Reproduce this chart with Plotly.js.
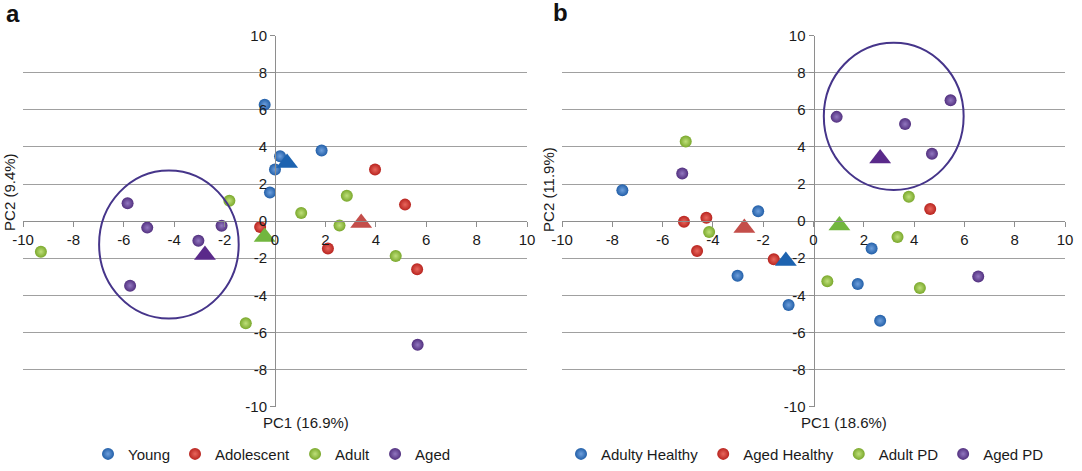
<!DOCTYPE html>
<html>
<head>
<meta charset="utf-8">
<script src="https://cdn.plot.ly/plotly-3.0.1.min.js"></script>
<style>html,body{margin:0;padding:0;background:#fff;}#chart{width:1082px;height:471px;}</style>
</head>
<body>
<div id="chart"></div>
<script>
// ---------- Panel a data ----------
const seriesA = ["Young", "Adolescent", "Adult", "Aged"];
const youngX = [-0.41, 0.2, 0.0, 1.85, -0.2];
const youngY = [6.28, 3.5, 2.78, 3.81, 1.54];
const adolescentX = [3.97, 5.16, -0.59, 2.1, 5.64];
const adolescentY = [2.78, 0.89, -0.32, -1.47, -2.59];
const adultX = [-1.81, 2.85, 1.04, 2.56, -9.29, 4.79, -1.16];
const adultY = [1.1, 1.37, 0.44, -0.23, -1.65, -1.88, -5.51];
const agedX = [-5.85, -5.07, -2.12, -3.04, -5.75, 5.66];
const agedY = [0.96, -0.35, -0.25, -1.06, -3.48, -6.67];
const centroidA_X = [0.48, 3.42, -0.41, -2.78];
const centroidA_Y = [3.14, -0.1, -0.85, -1.83];
const ellipseA = {cx: -4.21, cy: -1.26, rx: 2.77, ry: 3.99};

// ---------- Panel b data ----------
const seriesB = ["Adulty Healthy", "Aged Healthy", "Adult PD", "Aged PD"];
const adultHealthyX = [-7.6, -2.2, -3.02, 2.31, 1.76, -0.99, 2.65];
const adultHealthyY = [1.67, 0.53, -2.94, -1.47, -3.39, -4.52, -5.37];
const agedHealthyX = [-5.15, -4.26, -4.63, -1.58, 4.64];
const agedHealthyY = [-0.03, 0.18, -1.61, -2.06, 0.66];
const adultPDX = [-5.08, -4.15, 3.79, 3.34, 0.55, 4.23];
const adultPDY = [4.29, -0.59, 1.31, -0.85, -3.24, -3.6];
const agedPDX = [-5.22, 0.92, 3.64, 5.45, 4.71, 6.55];
const agedPDY = [2.57, 5.62, 5.23, 6.51, 3.63, -2.98];
const centroidB_X = [-1.1, -2.75, 1.03, 2.65];
const centroidB_Y = [-2.15, -0.37, -0.23, 3.37];
const ellipseB = {cx: 3.19, cy: 5.65, rx: 2.78, ry: 3.97};

const axisLabelsA = {x: "PC1 (16.9%)", y: "PC2 (9.4%)"};
const axisLabelsB = {x: "PC1 (18.6%)", y: "PC2 (11.9%)"};
const axisRange = [-10, 10];
const tickValues = [-10, -8, -6, -4, -2, 0, 2, 4, 6, 8, 10];
const tickLabels = ["-10", "-8", "-6", "-4", "-2", "0", "2", "4", "6", "8", "10"];

// ---------- styles ----------
const sphereColors = ["#225fa8", "#b8241f", "#7aa82c", "#52307f"];
const sphereHighlights = ["#6e9fdc", "#e8675d", "#bfe07a", "#9277c0"];
const triColors = ["#1d63b0", "#c44e4a", "#72b63f", "#5a2a8a"];
const FONT = "Liberation Sans, Arial, sans-serif";

function sphereTrace(name, xs, ys, i, xa, ya, legend) {
  return {
    type: "scatter", mode: "markers", name: name, x: xs, y: ys,
    xaxis: xa, yaxis: ya, legend: legend,
    marker: {size: 12, color: sphereColors[i], symbol: "circle",
             gradient: {type: "radial", color: sphereHighlights[i]},
             line: {width: 0}},
    hoverinfo: "x+y+name"
  };
}
function centroidTraces(cx, cy, xa, ya) {
  return cx.map((v, i) => ({
    type: "scatter", mode: "markers", x: [v], y: [cy[i]], xaxis: xa, yaxis: ya,
    showlegend: false,
    marker: {size: 19, symbol: "triangle-up", color: triColors[i], line: {width: 0}},
    hoverinfo: "x+y"
  }));
}

const data = [
  sphereTrace(seriesA[0], youngX, youngY, 0, "x", "y", "legend"),
  sphereTrace(seriesA[1], adolescentX, adolescentY, 1, "x", "y", "legend"),
  sphereTrace(seriesA[2], adultX, adultY, 2, "x", "y", "legend"),
  sphereTrace(seriesA[3], agedX, agedY, 3, "x", "y", "legend"),
  ...centroidTraces(centroidA_X, centroidA_Y, "x", "y"),
  sphereTrace(seriesB[0], adultHealthyX, adultHealthyY, 0, "x2", "y2", "legend2"),
  sphereTrace(seriesB[1], agedHealthyX, agedHealthyY, 1, "x2", "y2", "legend2"),
  sphereTrace(seriesB[2], adultPDX, adultPDY, 2, "x2", "y2", "legend2"),
  sphereTrace(seriesB[3], agedPDX, agedPDY, 3, "x2", "y2", "legend2"),
  ...centroidTraces(centroidB_X, centroidB_Y, "x2", "y2")
];

// layout geometry (paper fractions)
const domA = [23 / 1082, 527 / 1082];
const domB = [562 / 1082, 1065 / 1082];
const domY = [1 - 411 / 471, 1 - 36 / 471];
const midY = (domY[0] + domY[1]) / 2;
const midA = (domA[0] + domA[1]) / 2;
const midB = (domB[0] + domB[1]) / 2;

const tickFont = {family: FONT, size: 15, color: "#1a1a1a"};
function xAxis(dom) {
  return {domain: dom, range: axisRange, anchor: "free", position: midY,
    showgrid: false, zeroline: false, showline: true, linecolor: "#8e8e8e", linewidth: 1,
    ticks: "outside", ticklen: 5, tickcolor: "#8e8e8e",
    tickmode: "array", tickvals: tickValues, ticktext: tickLabels,
    tickfont: tickFont, fixedrange: true};
}
function yAxis(pos) {
  return {domain: domY, range: axisRange, anchor: "free", position: pos,
    showgrid: true, gridcolor: "#a0a0a0", gridwidth: 1, zeroline: false,
    showline: true, linecolor: "#8e8e8e", linewidth: 1,
    ticks: "outside", ticklen: 5, tickcolor: "#8e8e8e",
    tickmode: "array", tickvals: tickValues, ticktext: tickLabels,
    tickfont: tickFont, fixedrange: true};
}
function ellipseShape(e, xr, yr) {
  return {type: "circle", xref: xr, yref: yr,
    x0: e.cx - e.rx, x1: e.cx + e.rx, y0: e.cy - e.ry, y1: e.cy + e.ry,
    line: {color: "#46358a", width: 2}, fillcolor: "rgba(0,0,0,0)"};
}
const titleFont = {family: FONT, size: 15, color: "#1a1a1a"};
const legendCommon = {orientation: "h", xanchor: "center", yanchor: "middle",
  y: 1 - 459 / 471, font: {family: FONT, size: 15, color: "#1a1a1a"},
  itemsizing: "constant", itemwidth: 30, bgcolor: "rgba(0,0,0,0)", tracegroupgap: 0};

const layout = {
  width: 1082, height: 471,
  margin: {l: 0, r: 0, t: 0, b: 0},
  paper_bgcolor: "#fff", plot_bgcolor: "#fff",
  xaxis: xAxis(domA), yaxis: yAxis(midA),
  xaxis2: xAxis(domB), yaxis2: yAxis(midB),
  shapes: [ellipseShape(ellipseA, "x", "y"), ellipseShape(ellipseB, "x2", "y2")],
  legend: Object.assign({x: 272 / 1082}, legendCommon),
  legend2: Object.assign({x: 805 / 1082}, legendCommon),
  annotations: [
    {text: axisLabelsA.x, xref: "paper", yref: "paper", x: 306 / 1082, y: 1 - 427 / 471,
     xanchor: "center", yanchor: "middle", showarrow: false, font: titleFont},
    {text: axisLabelsA.y, xref: "paper", yref: "paper", x: 10 / 1082, y: 1 - 194 / 471,
     xanchor: "center", yanchor: "middle", textangle: -90, showarrow: false, font: titleFont},
    {text: axisLabelsB.x, xref: "paper", yref: "paper", x: 844 / 1082, y: 1 - 427 / 471,
     xanchor: "center", yanchor: "middle", showarrow: false, font: titleFont},
    {text: axisLabelsB.y, xref: "paper", yref: "paper", x: 549 / 1082, y: 1 - 192 / 471,
     xanchor: "center", yanchor: "middle", textangle: -90, showarrow: false, font: titleFont},
    {text: "<b>a</b>", xref: "paper", yref: "paper", x: 4 / 1082, y: 1 - 14 / 471,
     xanchor: "left", yanchor: "middle", showarrow: false,
     font: {family: FONT, size: 24, color: "#111"}},
    {text: "<b>b</b>", xref: "paper", yref: "paper", x: 551 / 1082, y: 1 - 13 / 471,
     xanchor: "left", yanchor: "middle", showarrow: false,
     font: {family: FONT, size: 24, color: "#111"}}
  ],
  showlegend: true
};

Plotly.newPlot("chart", data, layout, {displayModeBar: false, staticPlot: true});
</script>
</body>
</html>
